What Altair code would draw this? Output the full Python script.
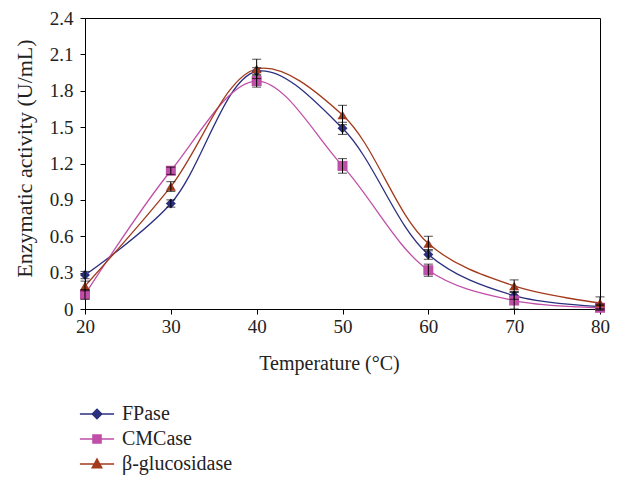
import altair as alt
import pandas as pd

temps = [20, 30, 40, 50, 60, 70, 80]
series = ["FPase", "CMCase", "β-glucosidase"]
fpase = [0.28, 0.87, 1.96, 1.49, 0.45, 0.11, 0.02]
fpase_err = [0.03, 0.03, 0.03, 0.05, 0.04, 0.03, 0.02]
cmcase = [0.12, 1.14, 1.88, 1.18, 0.32, 0.07, 0.01]
cmcase_err = [0.04, 0.03, 0.05, 0.06, 0.05, 0.07, 0.02]
bgluc = [0.19, 1.01, 1.98, 1.60, 0.54, 0.19, 0.05]
bgluc_err = [0.04, 0.04, 0.08, 0.08, 0.06, 0.05, 0.05]
y_ticks = [0, 0.3, 0.6, 0.9, 1.2, 1.5, 1.8, 2.1, 2.4]
colors = ["#2B2F7F", "#C04FA8", "#A33A1C"]

rows = []
for name, vals, errs in zip(series, [fpase, cmcase, bgluc], [fpase_err, cmcase_err, bgluc_err]):
    for t, v, e in zip(temps, vals, errs):
        rows.append({"T": t, "S": name, "v": v, "lo": v - e, "hi": v + e})
df = pd.DataFrame(rows)

FONT = "Liberation Serif"
YTITLE = "Enzymatic activity (U/mL)"
XTITLE = "Temperature (°C)"

x_axis = alt.Axis(title=XTITLE, values=temps, tickSize=5, titleFontSize=20, labelFlush=False,
                  labelPadding=3, titleX=244, titleY=54, titleBaseline="middle")
y_axis = alt.Axis(title=YTITLE, values=y_ticks, tickSize=5, labelPadding=7, titleFontSize=22,
                  labelFlush=False,
                  labelExpr="datum.value == 0 ? '0' : format(datum.value, '.1f')",
                  titleX=-61, titleY=140, titleAngle=-90, titleBaseline="middle",
                  titleAlign="center")
x_scale = alt.Scale(domain=[20, 80], nice=False)
y_scale = alt.Scale(domain=[0, 2.4], nice=False)

x = alt.X("T:Q", scale=x_scale, axis=x_axis)
y = alt.Y("v:Q", scale=y_scale, axis=y_axis)

base = alt.Chart(df)

lines = base.mark_line(interpolate="catmull-rom", strokeWidth=1.3).encode(
    x=x, y=y,
    color=alt.Color("S:N", scale=alt.Scale(domain=series, range=colors), legend=None),
    detail="S:N",
)

points = base.mark_point(filled=True, size=100, opacity=1).encode(
    x=x, y=y,
    color=alt.Color("S:N", scale=alt.Scale(domain=series, range=colors), legend=None),
    shape=alt.Shape("S:N", scale=alt.Scale(domain=series, range=["diamond", "square", "triangle-up"]), legend=None),
)

errs = base.mark_errorbar(ticks=alt.MarkConfig(size=9, color="black"), color="black",
                          thickness=1).encode(
    x=alt.X("T:Q", scale=x_scale, axis=x_axis),
    y=alt.Y("lo:Q", scale=y_scale, axis=y_axis, title=YTITLE),
    y2="hi:Q",
)

legend_paths = [
    "M-3.8,0H3.8M0,-1.05L1.05,0L0,1.05L-1.05,0Z",
    "M-3.8,0H3.8M-0.9,-0.9H0.9V0.9H-0.9Z",
    "M-3.8,0H3.8M0,-1.1L1.05,0.85L-1.05,0.85Z",
]
legend_layer = base.mark_point(filled=True, size=81, opacity=1, strokeWidth=1.5).encode(
    x=x, y=y,
    color=alt.Color("S:N", scale=alt.Scale(domain=series, range=colors),
                    legend=alt.Legend(title=None, orient="none", legendX=2, legendY=386,
                                      labelFont=FONT, labelFontSize=20, labelColor="#222",
                                      labelOffset=15, rowPadding=5, symbolStrokeWidth=1.5,
                                      symbolSize=81, symbolOpacity=1, labelLimit=300)),
    stroke=alt.Stroke("S:N", scale=alt.Scale(domain=series, range=colors)),
    shape=alt.Shape("S:N", scale=alt.Scale(domain=series, range=legend_paths)),
).transform_filter("datum.T < 0")

chart = alt.layer(lines, points, errs, legend_layer).resolve_scale(
    color="independent", shape="independent", stroke="independent"
).properties(
    width=515, height=291,
    autosize=alt.AutoSizeParams(type="none"),
    padding={"left": 77, "top": 10, "right": 10, "bottom": 168},
).configure_view(stroke="black", strokeWidth=1).configure_axis(
    grid=False, domainColor="black", tickColor="black", domainWidth=1, tickWidth=1,
    labelFont=FONT, titleFont=FONT, labelFontSize=19,
    labelColor="#222", titleColor="#222", titleFontWeight="normal",
)

chart.save("out.html", embed_options={"renderer": "svg", "actions": False})
